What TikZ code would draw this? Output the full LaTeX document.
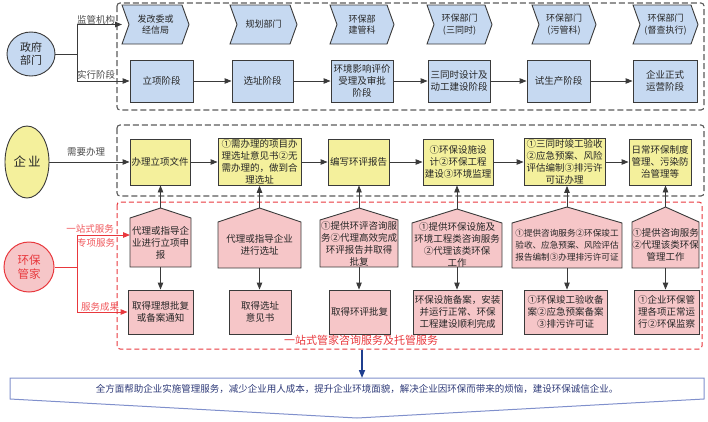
\documentclass[tikz,border=0pt]{standalone}
\usepackage{fontspec}
\setmainfont{Noto Sans CJK SC}
\usetikzlibrary{arrows.meta,shapes.geometric}
\definecolor{bluef}{HTML}{C6D9F1}
\definecolor{yelf}{HTML}{F4F09C}
\definecolor{pinkf}{HTML}{F6C6C8}
\definecolor{edge}{HTML}{3A3A3A}
\definecolor{redl}{HTML}{E8383D}
\definecolor{redt}{HTML}{F0585C}
\definecolor{dashg}{HTML}{5A5A5A}
\definecolor{navy}{HTML}{1F3F8F}
\definecolor{banb}{HTML}{8090CC}
\definecolor{bant}{HTML}{2E3A78}
\definecolor{labg}{HTML}{4A4A4A}
\tikzset{
 every node/.style={font=\fontsize{9.5}{12}\selectfont, text=black!85},
 box/.style={draw=edge, line width=0.9pt, align=center, inner sep=1pt},
 bb/.style={box, fill=bluef, minimum height=42pt},
 yb/.style={box, fill=yelf, minimum height=46pt},
 pb/.style={box, fill=pinkf, minimum height=44pt},
 shapeline/.style={draw=edge, line width=0.9pt},
 intext/.style={align=center, inner sep=0pt},
 arr/.style={draw=edge, line width=0.9pt, -{Triangle[length=7pt,width=5.5pt]}},
 rarr/.style={draw=redl, line width=1pt, -{Triangle[length=7pt,width=5.5pt]}},
 narr/.style={draw=navy, line width=1.6pt, -{Triangle[length=8pt,width=6pt]}},
 rline/.style={draw=redl, line width=1pt},
 gline/.style={draw=edge, line width=0.9pt},
 gdash/.style={draw=dashg, line width=1.1pt, dash pattern=on 6pt off 3pt, rounded corners=3pt},
 rdash/.style={draw=redl, line width=1pt, dash pattern=on 5pt off 3pt, rounded corners=3pt},
 lab/.style={text=labg, inner sep=0pt},
 rlab/.style={text=redt, inner sep=0pt},
}
\newcommand{\mychev}[6]{%
 \path[shapeline, fill=bluef] (#2,#4) -- ({#3-7},#4) -- (#3,{(#4+#5)/2}) -- ({#3-7},#5) -- (#2,#5) -- ({#2+7},{(#4+#5)/2}) -- cycle;
 \node[intext, font=\fontsize{9}{11.5}\selectfont] (#1) at ({(#2+#3)/2},{(#4+#5)/2}) {#6};
 \coordinate (#1-in) at (#2,{(#4+#5)/2});
}
\newcommand{\myhouse}[7]{%
 \path[shapeline, fill=pinkf] (#2,#6) -- (#2,#5) -- ({(#2+#3)/2},#4) -- (#3,#5) -- (#3,#6) -- cycle;
 \node[intext] (#1) at ({(#2+#3)/2},{(#5+#6)/2}) {#7};
 \coordinate (#1-top) at ({(#2+#3)/2},#4);
 \coordinate (#1-bot) at ({(#2+#3)/2},#6);
}
\begin{document}
\begin{tikzpicture}[x=1pt,y=-1pt]
\useasboundingbox (0,0) rectangle (708,421);
% dashed frames
\draw[gdash] (117,3) rectangle (704,110);
\draw[gdash] (117,125) rectangle (704,196);
\draw[rdash] (117,202) rectangle (702,349);

% government row
\node[ellipse, draw=edge, fill=bluef, line width=0.9pt, minimum width=48pt, minimum height=44pt, inner sep=0pt, align=center, font=\fontsize{11}{13}\selectfont] (gov) at (31,54) {政府\\部门};
\mychev{C1}{122}{189}{5}{44}{发改委或\\经信局}
\mychev{C2}{230}{297}{5}{44}{规划部门}
\mychev{C3}{330}{394}{5}{44}{环保部\\建管科}
\mychev{C4}{427}{492}{5}{44}{环保部门\\(三同时)}
\mychev{C5}{532}{596}{5}{44}{环保部门\\(污管科)}
\mychev{C6}{633}{698}{5}{44}{环保部门\\(督查执行)}
\node[bb, minimum width=63pt] (B1) at (161.5,81) {立项阶段};
\node[bb, minimum width=61pt] (B2) at (262.5,81) {选址阶段};
\node[bb, minimum width=62pt] (B3) at (362,81) {环境影响评价\\受理及审批\\阶段};
\node[bb, minimum width=62pt] (B4) at (459,81) {三同时设计及\\动工建设阶段};
\node[bb, minimum width=63pt] (B5) at (558.5,81) {试生产阶段};
\node[bb, minimum width=64pt] (B6) at (665,81) {企业正式\\运营阶段};
\foreach \a/\b in {B1/B2,B2/B3,B3/B4,B4/B5,B5/B6} \draw[arr] (\a.east) -- (\b.west);
\coordinate (gj) at (77,54);
\draw[gline] (gov.east) -- (gj);
\draw[arr] (gj) |- (C1-in);
\draw[arr] (gj) |- (B1.west);
\node[lab] (l1) at (96,20) {监管机构};
\node[lab] (l2) at (96,75) {实行阶段};

% enterprise row
\node[ellipse, draw=edge, fill=yelf, line width=0.9pt, minimum width=44pt, minimum height=72pt, inner sep=0pt, font=\fontsize{12.5}{14}\selectfont] (ent) at (27,162) {企\hspace{2pt}业};
\node[yb, minimum width=60pt] (Y1) at (160,162) {办理立项文件};
\node[yb, minimum width=83pt] (Y2) at (259.5,162) {①需办理的项目办\\理选址意见书②无\\需办理的，做到合\\理选址};
\node[yb, minimum width=61pt] (Y3) at (358.5,162) {编写环评报告};
\node[yb, minimum width=70pt] (Y4) at (458,162) {①环保设施设\\计②环保工程\\建设③环境监理};
\node[yb, minimum width=81pt] (Y5) at (564.5,162) {①三同时竣工验收\\②应急预案、风险\\评估编制③排污许\\可证办理};
\node[yb, minimum width=62pt] (Y6) at (660,162) {日常环保制度\\管理、污染防\\治管理等};
\foreach \a/\b in {Y1/Y2,Y2/Y3,Y3/Y4,Y4/Y5,Y5/Y6} \draw[arr] (\a.east) -- (\b.west);
\draw[arr] (ent.east) -- (Y1.west);
\node[lab] (l3) at (86,152) {需要办理};

% steward row
\node[circle, draw=redl, fill=pinkf, line width=1pt, minimum size=50pt, inner sep=0pt, align=center, text=redl, font=\fontsize{11.5}{13.5}\selectfont] (hk) at (29,267) {环保\\管家};
\myhouse{P1}{130}{191}{208}{218}{267}{代理或指导企\\业进行立项申\\报}
\myhouse{P2}{218}{301}{208}{222}{268}{代理或指导企业\\进行选址}
\myhouse{P3}{320}{398}{208}{220}{267}{①提供环评咨询服\\务②代理高效完成\\环评报告并取得\\批复}
\myhouse{P4}{412}{502}{209}{223}{267}{①提供环保设施及\\环境工程类咨询服务\\②代理该类环保\\工作}
\myhouse{P5}{512}{622}{207}{223}{268}{\fontsize{8.6}{12}\selectfont ①提供咨询服务②环保竣工\\\fontsize{8.6}{12}\selectfont 验收、应急预案、风险评估\\\fontsize{8.6}{12}\selectfont 报告编制③办理排污许可证}
\myhouse{P6}{632}{699}{207}{222}{268}{①提供咨询服务\\②代理该类环保\\管理工作}
\node[pb, minimum width=65pt] (R1) at (160.5,312) {取得理想批复\\或备案通知};
\node[pb, minimum width=62pt] (R2) at (260,312) {取得选址\\意见书};
\node[pb, minimum width=61pt] (R3) at (359.5,312) {取得环评批复};
\node[pb, minimum width=89pt] (R4) at (457.5,312) {环保设施备案，安装\\并运行正常、环保\\工程建设顺利完成};
\node[pb, minimum width=83pt] (R5) at (565.5,312) {①环保竣工验收备\\案②应急预案备案\\③排污许可证};
\node[pb, minimum width=65pt] (R6) at (666.5,312) {①企业环保管\\理各项正常运\\行②环保监察};
\foreach \i in {1,...,6} {
 \draw[arr] (P\i-top) -- (P\i-top |- Y\i.south);
 \draw[arr] (P\i-bot) -- (P\i-bot |- R\i.north);
}
\coordinate (rj) at (77,267);
\coordinate (P1-w) at (130,235);
\draw[rline] (hk.east) -- (rj);
\draw[rarr] (rj) |- (P1-w);
\draw[rarr] (rj) |- (R1.west);
\node[rlab] (l4) at (90,229) {一站式服务};
\node[rlab] (l5) at (96,243) {专项服务};
\node[rlab] (l6) at (100,307) {服务成果};
\node[inner sep=0pt, text=redl, font=\fontsize{11}{13}\selectfont] (svclab) at (361,340) {一站式管家咨询服务及托管服务};

% bottom banner
\path[draw=banb, line width=1pt, fill=white] (10,378) -- (704,378) -- (704,399) -- (357,418) -- (10,399) -- cycle;
\node[inner sep=0pt, text=bant] (ban) at (357,389) {全方面帮助企业实施管理服务，减少企业用人成本，提升企业环境面貌，解决企业因环保而带来的烦恼，建设环保诚信企业。};
\coordinate (svcbot) at (362,350);
\coordinate (bantop) at (362,378);
\draw[narr] (svcbot) -- (bantop);
\end{tikzpicture}
\end{document}
